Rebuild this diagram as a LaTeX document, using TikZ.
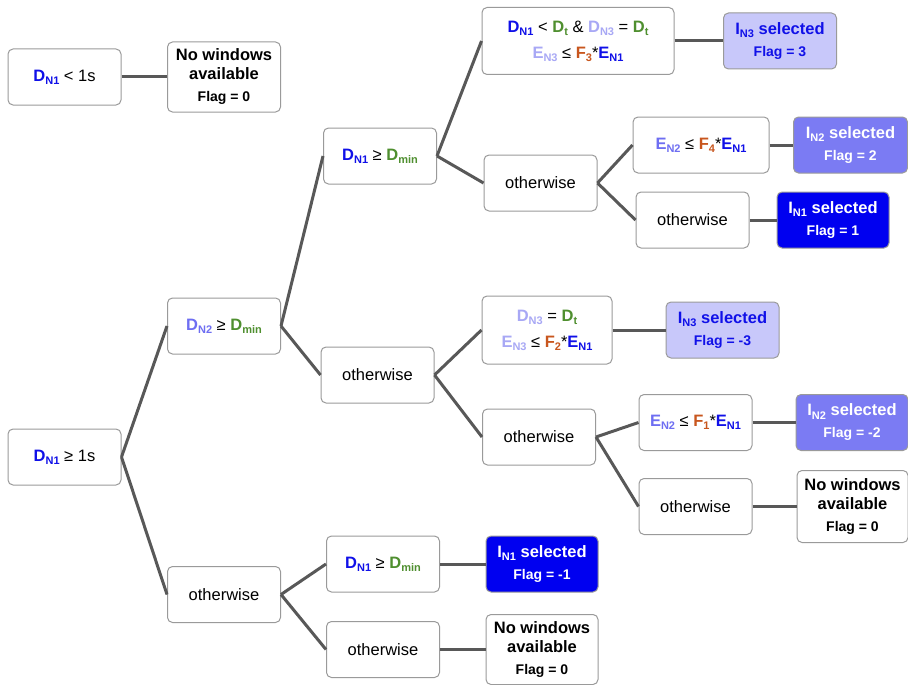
\documentclass[tikz,border=0pt]{standalone}
\usepackage{fontspec}
\setmainfont{Liberation Sans}
\definecolor{nOne}{HTML}{1010E8}
\definecolor{nTwo}{HTML}{6E6EF2}
\definecolor{nThree}{HTML}{A8A8F5}
\definecolor{durgreen}{HTML}{4F8F2F}
\definecolor{facorange}{HTML}{C8561E}
\definecolor{selOne}{HTML}{0000F0}
\definecolor{selTwo}{HTML}{7B7BF3}
\definecolor{selThree}{HTML}{C8C8FA}
\definecolor{boxgray}{HTML}{9A9A9A}
\definecolor{linkgray}{HTML}{585858}
\newcommand\vsym[3]{{\color{#1}\bfseries #2\raisebox{-0.35ex}{\fontsize{11}{11}\selectfont #3}}}
\newcommand\isel[1]{I\raisebox{-0.35ex}{\fontsize{11}{11}\selectfont #1} selected}
\newcommand\flagline[1]{\\[3pt]{\fontsize{14}{16}\selectfont\bfseries Flag = #1}}
\tikzset{
  box/.style = {draw = boxgray, line width = 1pt, rounded corners = 5pt, fill = white, minimum width = 113pt, minimum height = 56pt, inner sep = 2pt, align = center, font = \fontsize{16.5}{19}\selectfont},
  pick/.style = {box, font = \fontsize{16.5}{19}\selectfont\bfseries},
  link/.style = {draw = linkgray, line width = 3pt}
}
\begin{document}
\begin{tikzpicture}[x = 1pt, y = -1pt]
\useasboundingbox (0,0) rectangle (908,685);
\node[box] (dshort) at (64.5,77) {\vsym{nOne}{D}{N1} < 1s};
\node[pick, minimum height = 70pt] (nowinA) at (224,77) {No windows\\available\flagline{0}};
\node[box] (root) at (64.5,457) {\vsym{nOne}{D}{N1} ≥ 1s};
\node[box] (dtwo) at (224,326) {\vsym{nTwo}{D}{N2} ≥ \vsym{durgreen}{D}{min}};
\node[box] (othA) at (224,594.5) {otherwise};
\node[box] (donetop) at (380,156) {\vsym{nOne}{D}{N1} ≥ \vsym{durgreen}{D}{min}};
\node[box] (othB) at (377.5,375) {otherwise};
\node[box] (donebot) at (383,564) {\vsym{nOne}{D}{N1} ≥ \vsym{durgreen}{D}{min}};
\node[box] (othC) at (383,649.5) {otherwise};
\node[pick, fill = selOne, text = white, minimum width = 112pt] (selOneB) at (542,564) {\isel{N1}\flagline{-1}};
\node[pick, minimum width = 112pt, minimum height = 70pt] (nowinC) at (542,649.5) {No windows\\available\flagline{0}};
\node[box, minimum width = 192pt, minimum height = 67pt] (dthree) at (578,41) {\vsym{nOne}{D}{N1} < \vsym{durgreen}{D}{t} \& \vsym{nThree}{D}{N3} = \vsym{durgreen}{D}{t}\\[7pt]\vsym{nThree}{E}{N3} ≤ \vsym{facorange}{F}{3}*\vsym{nOne}{E}{N1}};
\node[pick, fill = selThree, text = nOne] (selThreeA) at (780,41) {\isel{N3}\flagline{3}};
\node[box] (othD) at (540.5,183) {otherwise};
\node[box, minimum width = 136pt] (etwoA) at (701,145) {\vsym{nTwo}{E}{N2} ≤ \vsym{facorange}{F}{4}*\vsym{nOne}{E}{N1}};
\node[pick, fill = selTwo, text = white, minimum width = 114pt] (selTwoA) at (850.5,145) {\isel{N2}\flagline{2}};
\node[box] (othE) at (692.5,220) {otherwise};
\node[pick, fill = selOne, text = white, minimum width = 112pt] (selOneA) at (833,220) {\isel{N1}\flagline{1}};
\node[box, minimum width = 130pt, minimum height = 68pt] (dthreeB) at (547,330) {\vsym{nThree}{D}{N3} = \vsym{durgreen}{D}{t}\\[7pt]\vsym{nThree}{E}{N3} ≤ \vsym{facorange}{F}{2}*\vsym{nOne}{E}{N1}};
\node[pick, fill = selThree, text = nOne] (selThreeB) at (722.5,330) {\isel{N3}\flagline{-3}};
\node[box] (othF) at (539,437) {otherwise};
\node[box] (etwoB) at (695.5,422.5) {\vsym{nTwo}{E}{N2} ≤ \vsym{facorange}{F}{1}*\vsym{nOne}{E}{N1}};
\node[pick, fill = selTwo, text = white, minimum width = 112pt] (selTwoB) at (852,422.5) {\isel{N2}\flagline{-2}};
\node[box] (othG) at (695.5,506.5) {otherwise};
\node[pick, minimum width = 111pt, minimum height = 72pt] (nowinB) at (852.5,506.5) {No windows\\available\flagline{0}};
\foreach \a/\b in {dshort/nowinA, root/dtwo, root/othA, dtwo/donetop, dtwo/othB, othA/donebot, othA/othC, donebot/selOneB, othC/nowinC, donetop/dthree, donetop/othD, dthree/selThreeA, othD/etwoA, othD/othE, etwoA/selTwoA, othE/selOneA, othB/dthreeB, othB/othF, dthreeB/selThreeB, othF/etwoB, othF/othG, etwoB/selTwoB, othG/nowinB}
  \draw[link] (\a.east) -- (\b.west);
\end{tikzpicture}
\end{document}
